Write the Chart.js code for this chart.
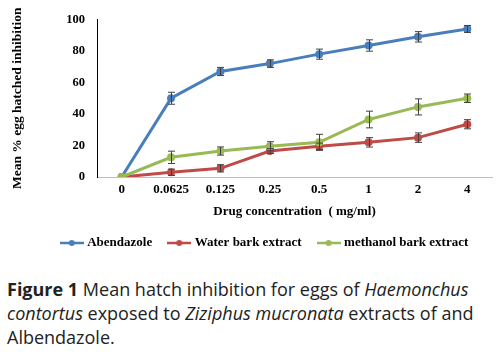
<!DOCTYPE html>
<html>
<head>
<meta charset="utf-8">
<script src="https://cdn.jsdelivr.net/npm/chart.js@4/dist/chart.umd.min.js"></script>
<style>
  html, body { margin: 0; padding: 0; background: #fff; }
  #wrap { width: 496px; height: 262px; }
  .caption {
    font-family: "Open Sans", sans-serif;
    font-size: 18px;
    line-height: 24px;
    color: #222;
    margin: 15px 0 0 7px;
  }
</style>
</head>
<body>
<div id="wrap"><canvas id="myChart" width="496" height="262"></canvas></div>
<div class="caption"><b>Figure 1</b> Mean hatch inhibition for eggs of <i>Haemonchus</i><br><i>contortus</i> exposed to <i>Ziziphus mucronata</i> extracts of and<br>Albendazole.</div>
<script>
const concentrations = ['0', '0.0625', '0.125', '0.25', '0.5', '1', '2', '4'];
const abendazole = [0, 50, 67, 72, 78, 83.5, 89, 94];
const abendazoleErr = [0, 3.8, 2.6, 2.4, 3.2, 3.6, 3.3, 2.2];
const water = [0, 3, 5.5, 16.5, 19.5, 22, 25, 33.5];
const waterErr = [0, 2, 2.3, 1.5, 2, 3, 3, 2.9];
const methanol = [0, 12.5, 16.5, 19.5, 22, 36.5, 44.5, 50];
const methanolErr = [0, 3.9, 2.6, 2.9, 5.1, 5.3, 5.1, 2.7];
const yTicks = [0, 20, 40, 60, 80, 100];

const serif = '"Liberation Serif", "Times New Roman", serif';

// little line + dot marker for the legend, like the excel one
function legendMark(color) {
  const c = document.createElement('canvas');
  c.width = 24; c.height = 8;
  const g = c.getContext('2d');
  g.strokeStyle = color; g.lineWidth = 2.5;
  g.beginPath(); g.moveTo(0, 4); g.lineTo(24, 4); g.stroke();
  g.fillStyle = color;
  g.beginPath(); g.arc(12, 4, 3, 0, Math.PI * 2); g.fill();
  return c;
}

const errorBars = {
  id: 'errorBars',
  afterDatasetsDraw(chart) {
    const g = chart.ctx;
    const y = chart.scales.y;
    g.save();
    g.strokeStyle = '#404040';
    g.lineWidth = 1;
    chart.data.datasets.forEach((ds, i) => {
      const meta = chart.getDatasetMeta(i);
      meta.data.forEach((pt, j) => {
        const e = ds.errors[j];
        if (!e) return;
        const top = y.getPixelForValue(ds.data[j] + e);
        const bot = y.getPixelForValue(ds.data[j] - e);
        const x = Math.round(pt.x) + 0.5;
        g.beginPath();
        g.moveTo(x, top); g.lineTo(x, bot);
        g.moveTo(x - 3.5, top); g.lineTo(x + 3.5, top);
        g.moveTo(x - 3.5, bot); g.lineTo(x + 3.5, bot);
        g.stroke();
      });
    });
    g.restore();
  }
};

// the legend sits a bit right of centre in the original
const legendShift = {
  id: 'legendShift',
  afterLayout(chart) {
    chart.legend.left += 18;
    chart.legend.right += 18;
  }
};

const colors = ['#4A7EBB', '#BE4B48', '#98B954'];

new Chart(document.getElementById('myChart'), {
  type: 'line',
  data: {
    labels: concentrations,
    datasets: [
      { label: 'Abendazole', data: abendazole, errors: abendazoleErr, order: 2 },
      { label: 'Water bark extract', data: water, errors: waterErr, order: 1 },
      { label: 'methanol bark extract', data: methanol, errors: methanolErr, order: 0 }
    ].map((d, i) => Object.assign(d, {
      borderColor: colors[i],
      backgroundColor: colors[i],
      borderWidth: 3,
      pointRadius: 4,
      pointBorderWidth: 0,
      tension: 0
    }))
  },
  options: {
    responsive: false,
    animation: false,
    layout: { padding: { top: 7, right: 1, left: 0, bottom: 2.5 } },
    plugins: {
      tooltip: { enabled: false },
      legend: {
        position: 'bottom',
        labels: {
          usePointStyle: true,
          pointStyleWidth: 18,
          font: { family: serif, size: 13, weight: 'bold' },
          color: '#000',
          padding: 18,
          generateLabels(chart) {
            return chart.data.datasets.map((ds, i) => ({
              text: ds.label,
              pointStyle: legendMark(colors[i]),
              fillStyle: colors[i],
              strokeStyle: colors[i],
              lineWidth: 0,
              datasetIndex: i,
              hidden: false
            }));
          }
        }
      }
    },
    scales: {
      x: {
        offset: true,
        grid: { display: false, drawTicks: false },
        border: { color: '#BFBFBF', width: 1 },
        ticks: { color: '#000', padding: 5, font: { family: serif, size: 13, weight: 'bold' } },
        title: {
          display: true,
          text: 'Drug concentration  ( mg/ml)',
          color: '#000',
          font: { family: serif, size: 13, weight: 'bold' },
          padding: { top: 0, bottom: -1 }
        },
        afterFit(s) { s.height = 41.5; }
      },
      y: {
        min: 0,
        max: 100,
        afterBuildTicks(s) { s.ticks = yTicks.map(v => ({ value: v })); },
        grid: { display: false, drawTicks: false },
        border: { color: '#000', width: 1 },
        ticks: { color: '#000', padding: 12, font: { family: serif, size: 12.5, weight: 'bold' } },
        title: {
          display: true,
          text: 'Mean % egg hatched inhibition',
          color: '#000',
          font: { family: serif, size: 13.5, weight: 'bold' },
          padding: { top: 9, bottom: 0 }
        },
        afterFit(s) { s.width = 97; }
      }
    }
  },
  plugins: [errorBars, legendShift]
});
</script>
</body>
</html>
